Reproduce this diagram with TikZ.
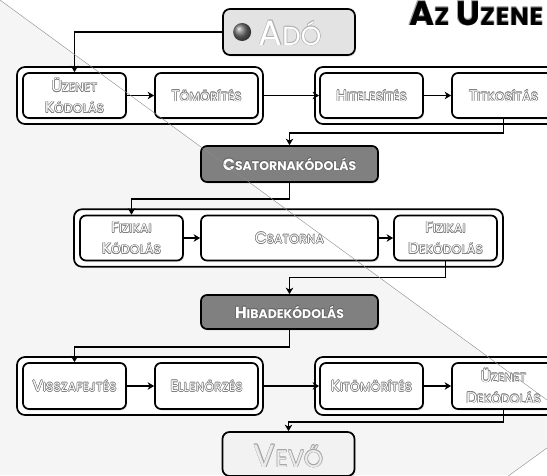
\documentclass[tikz,border=0pt]{standalone}
\usepackage{fontspec}
\setmainfont{Poppins}
\usetikzlibrary{arrows.meta,calc,shadows}
\def\scbig{13}
\newcommand\SC[2]{{\fontsize{\scbig}{\scbig}\selectfont#1}#2}
\newcommand\shc[3]{\rlap{\hspace*{#1}\raisebox{#2}{#3}}}
\newcommand\OL[2]{\mbox{{\color{#1}\shc{.6pt}{0pt}{#2}\shc{-.6pt}{0pt}{#2}\shc{0pt}{.6pt}{#2}\shc{0pt}{-.6pt}{#2}\shc{.42pt}{.42pt}{#2}\shc{-.42pt}{.42pt}{#2}\shc{.42pt}{-.42pt}{#2}\shc{-.42pt}{-.42pt}{#2}}#2}}
\newcommand\WT[2]{\OL{black!50}{\SC{#1}{#2}}}
\newcommand\DT[2]{\OL{black!60}{\SC{#1}{#2}}}
\tikzset{
  shd/.style={drop shadow={opacity=0.2, shadow xshift=1.2pt, shadow yshift=-1.5pt}},
  stepbox/.style={draw=black, line width=1.7pt, rounded corners=6pt, fill=white, shd,
    minimum width=103pt, minimum height=45pt, inner sep=0pt, align=center, text=white,
    font=\def\scbig{15.5}\fontsize{12}{21}\selectfont\addfontfeatures{LetterSpace=3}},
  grpbox/.style={draw=black, line width=1.7pt, rounded corners=8pt, fill=white,
    minimum width=246pt, minimum height=57pt, inner sep=0pt},
  darkbox/.style={draw=black, line width=1.7pt, rounded corners=6pt, fill=black!50, shd,
    minimum width=177pt, inner sep=0pt, text=white,
    font=\def\scbig{16}\fontsize{12.5}{13}\bfseries\selectfont},
  endbox/.style={draw=black, line width=1.7pt, rounded corners=7pt, shd,
    minimum width=132pt, inner sep=0pt},
  conn/.style={line width=1.7pt, -{Stealth[length=6.5pt,width=7.5pt,inset=2pt]}},
  deco/.style={draw=black!45, line width=0.4pt}
}
\begin{document}
\begin{tikzpicture}[x=1pt,y=-1pt]
\clip (0,0) rectangle (547,475);
\fill[white] (0,0) rectangle (547,475);
\fill[black!4] (0,0) -- (547,400) -- (547,448) -- (510,475) -- (0,475) -- cycle;

% title
\node[anchor=base west, inner sep=0pt, font=\bfseries\addfontfeatures{LetterSpace=3}] (title) at (409,25)
  {\OL{black!35}{{\fontsize{34}{34}\selectfont A}{\fontsize{25}{26}\selectfont Z}\hspace{7pt}{\fontsize{34}{34}\selectfont U}{\fontsize{25}{26}\selectfont ZENE}}};

% sender
\node[endbox, fill=black!11, minimum height=46pt] (ado) at (289,32) {};
\shade[ball color=black!55] ($(ado.west)+(20,0)$) circle (9);
\node[text=white, inner sep=0pt, font=\def\scbig{35}\fontsize{26}{27}\selectfont] (adot) at (290,33) {\OL{black!30}{\SC{A}{DÓ}}};

% row 1
\node[grpbox] (g1) at (140,95.5) {};
\node[grpbox, minimum width=245pt] (g2) at (437.5,95.5) {};
\node[stepbox] (uk) at (74.5,95.5) {\WT{Ü}{ZENET}\\\WT{K}{ÓDOLÁS}};
\node[stepbox] (tom) at (206.5,95.5) {\WT{T}{ÖMÖRÍTÉS}};
\node[stepbox] (hit) at (371.5,95.5) {\WT{H}{ITELESÍTÉS}};
\node[stepbox] (tit) at (503.5,95.5) {\WT{T}{ITKOSÍTÁS}};

% channel coding
\node[darkbox, minimum height=36pt] (csk) at (289.5,164) {\DT{C}{SATORNAKÓDOLÁS}};

% row 2
\node[grpbox, minimum width=429pt, minimum height=57.5pt] (g3) at (288.5,238) {};
\node[stepbox] (fk) at (131.5,238) {\WT{F}{IZIKAI}\\\WT{K}{ÓDOLÁS}};
\node[stepbox, minimum width=177pt] (cs) at (289.5,238) {\WT{C}{SATORNA}};
\node[stepbox] (fd) at (445.5,238) {\WT{F}{IZIKAI}\\\WT{D}{EKÓDOLÁS}};

% error decoding
\node[darkbox, minimum height=34pt] (hd) at (289.5,312) {\DT{H}{IBADEKÓDOLÁS}};

% row 3
\node[grpbox, minimum height=58pt] (g4) at (140,386) {};
\node[grpbox, minimum width=245pt, minimum height=58pt] (g5) at (437.5,386) {};
\node[stepbox, minimum height=46pt] (vf) at (74.5,386) {\WT{V}{ISSZAFEJTÉS}};
\node[stepbox, minimum height=46pt] (el) at (206.5,386) {\WT{E}{LLENŐRZÉS}};
\node[stepbox, minimum height=46pt] (kt) at (371.5,386) {\WT{K}{ITÖMÖRÍTÉS}};
\node[stepbox, minimum height=46pt] (ud) at (503.5,386) {\WT{Ü}{ZENET}\\\WT{D}{EKÓDOLÁS}};

% receiver
\node[endbox, fill=black!5, minimum height=44pt] (vevo) at (288.5,454) {};
\node[text=black!8, inner sep=0pt, font=\def\scbig{32}\fontsize{24}{25}\selectfont] (vevot) at (288.5,456) {\OL{black!35}{\SC{V}{EVŐ}}};

% connectors
\draw[conn] (ado.west) -| (uk.north);
\draw[conn] (uk.east) -- (tom.west);
\draw[conn] (g1.east) -- (hit.west);
\draw[conn] (hit.east) -- (tit.west);
\draw[conn] (tit.south) -- ++(0,14) -| (csk.north);
\draw[conn] (csk.south) -- ++(0,16) -| (fk.north);
\draw[conn] (fk.east) -- (cs.west);
\draw[conn] (cs.east) -- (fd.west);
\draw[conn] (fd.south) -- ++(0,16) -| (hd.north);
\draw[conn] (hd.south) -- ++(0,17) -| (vf.north);
\draw[conn] (vf.east) -- (el.west);
\draw[conn] (g4.east) -- (kt.west);
\draw[conn] (kt.east) -- (ud.west);
\draw[conn] (ud.south) -- ++(0,12) -| (vevo.north);

% decorative diagonals
\draw[deco] (0,0) -- (547,400);
\draw[deco] (580,424) -- (500,482);
\end{tikzpicture}
\end{document}
